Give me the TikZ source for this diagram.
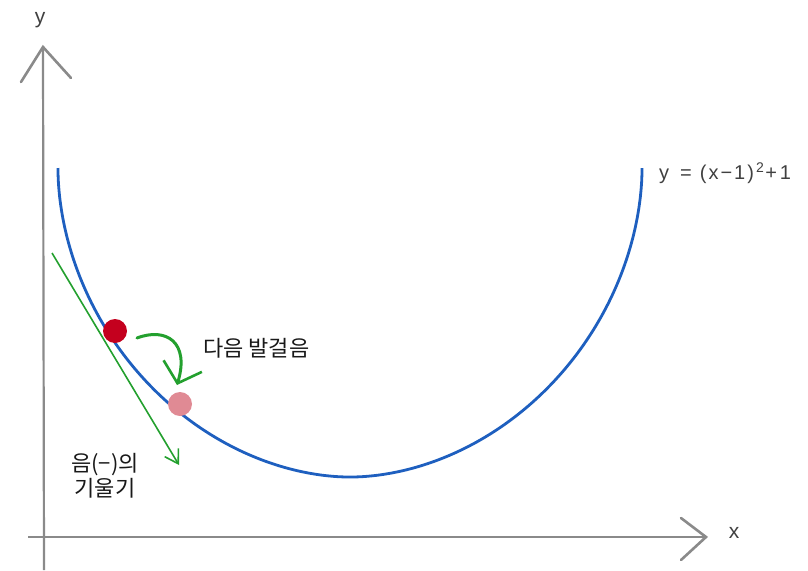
\documentclass[tikz,border=0pt]{standalone}
\usepackage{fontspec}
\newfontfamily\kr{Noto Sans CJK KR}
\newfontfamily\hand{Liberation Sans}
\usetikzlibrary{arrows.meta}
\definecolor{axisgray}{HTML}{8A8A8A}
\definecolor{curveblue}{HTML}{1E5FBF}
\definecolor{arrgreen}{HTML}{23A02E}
\definecolor{dotred}{HTML}{C4001E}
\definecolor{dotpink}{HTML}{E08A94}
\tikzset{
  axisline/.style={draw=axisgray, line width=2.2pt},
  axishead/.style={draw=axisgray, line width=2.6pt, line cap=round, line join=miter},
  curveline/.style={draw=curveblue, line width=2.8pt},
  dot/.style={circle, minimum size=24pt, inner sep=0pt},
  krlabel/.style={font=\kr\fontsize{22}{27}\selectfont, text=black!90, inner sep=0pt, align=center},
  axlabel/.style={font=\hand\fontsize{21}{24}\selectfont, text=black!75, inner sep=0pt},
}
\begin{document}
\begin{tikzpicture}[x=1pt,y=-1pt]
\useasboundingbox (0,0) rectangle (808,570);
% axes
\coordinate (ytop) at (43,47);
\coordinate (ybot) at (44,570);
\coordinate (xleft) at (28,537);
\coordinate (xtip) at (706,537);
\draw[axisline] (ybot) -- (ytop);
\draw[axishead] (21,82) -- (ytop) -- (71,78);
\draw[axisline] (xleft) -- (xtip);
\draw[axishead] (681,518) -- (xtip) -- (681,560);
\node[axlabel] (ylab) at (40,20) {y};
\node[axlabel] (xlab) at (734,533) {x};
% curve
\draw[curveline] plot[domain=0.001:179.999, samples=121, smooth, variable=\t]
  ({350-292*cos(\t)*pow(abs(cos(\t)),0.0526)}, {168+309*sin(\t)*pow(abs(sin(\t)),0.0526)});
\node[axlabel, anchor=west, font=\hand\fontsize{20}{22}\selectfont] (eq) at (659,173)
  {y\hspace{11pt}=\hspace{8pt}(\kern2pt x\kern2pt−\kern2pt1\kern2pt)\kern2pt\textsuperscript{2}\kern1pt+\kern3pt1};
% tangent
\coordinate (tstart) at (52,253);
\coordinate (tend) at (179,465);
\draw[draw=arrgreen, line width=1.6pt, -{Straight Barb[length=13pt,width=16pt,line width=1.6pt]}] (tstart) -- (tend);
% dots
\node[dot, fill=dotred] (red) at (115,331) {};
\node[dot, fill=dotpink] (pink) at (180,404) {};
% step arrow
\coordinate (sstart) at (137,338);
\coordinate (send) at (177,385);
\draw[draw=arrgreen, line width=3pt, line cap=round, -{Straight Barb[length=18pt,width=40pt,line width=2.6pt]}]
  (sstart) .. controls (166,327) and (190,342) .. (send);
% labels
\node[krlabel, anchor=west] (next) at (203,348) {다음 발걸음};
\node[krlabel] (neg) at (105,476) {음(−)의\\[-2pt]기울기};
\end{tikzpicture}
\end{document}
